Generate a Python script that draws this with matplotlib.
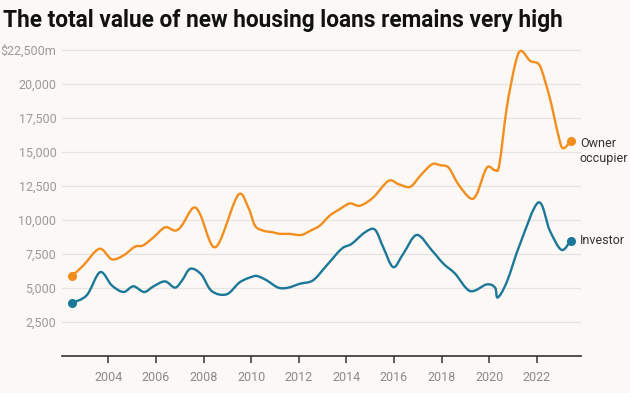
import numpy as np
import matplotlib.pyplot as plt
from matplotlib.path import Path
from matplotlib.patches import PathPatch

# values (decimal year, $m)
owner_years = [2002.46, 2002.95, 2003.62, 2004.14, 2004.63, 2005.12, 2005.45, 2005.9,
               2006.38, 2006.8, 2007.08, 2007.55, 2007.85, 2008.25, 2008.48, 2008.76,
               2009.46, 2009.88, 2010.16, 2010.5, 2010.92, 2011.2, 2011.6, 2012.1,
               2012.5, 2012.88, 2013.3, 2013.73, 2014.15, 2014.57, 2015.13, 2015.77,
               2016.19, 2016.68, 2017.1, 2017.6, 2017.95, 2018.3, 2018.7, 2019.2,
               2019.48, 2019.9, 2020.25, 2020.43, 2020.74, 2021.09, 2021.33, 2021.72,
               2022.03, 2022.2, 2022.55, 2022.9, 2023.1, 2023.43]
owner_vals = [5850, 6650, 7870, 7100, 7380, 8030, 8110, 8720,
              9450, 9210, 9570, 10870, 10430, 8480, 7990, 8720,
              11850, 10910, 9570, 9210, 9080, 8970, 8970, 8890,
              9210, 9570, 10310, 10800, 11210, 11040, 11650, 12870,
              12630, 12430, 13240, 14090, 14020, 13840, 12630, 11600,
              11900, 13840, 13650, 14090, 18240, 21420, 22440, 21710,
              21540, 21050, 18970, 16290, 15270, 15800]

inv_years = [2002.46, 2003.09, 2003.65, 2004.14, 2004.63, 2005.05, 2005.5, 2005.9,
             2006.38, 2006.8, 2007.1, 2007.44, 2007.9, 2008.34, 2008.97, 2009.53,
             2010.09, 2010.3, 2010.65, 2011.14, 2011.56, 2012.05, 2012.6, 2013.17,
             2013.8, 2014.22, 2014.78, 2015.2, 2015.55, 2015.97, 2016.39, 2016.96,
             2017.6, 2018.08, 2018.57, 2019.2, 2019.9, 2020.25, 2020.36, 2020.74,
             2021.3, 2022.07, 2022.55, 2023.04, 2023.43]
inv_vals = [3880, 4450, 6150, 5180, 4690, 5110, 4690, 5110,
            5470, 5010, 5550, 6400, 5990, 4760, 4520, 5420,
            5840, 5840, 5550, 5010, 5010, 5300, 5550, 6640,
            7870, 8230, 9080, 9280, 7980, 6520, 7500, 8890,
            7740, 6770, 6040, 4760, 5250, 5010, 4280, 5420,
            8230, 11280, 9210, 7790, 8480]

yticks = [2500, 5000, 7500, 10000, 12500, 15000, 17500, 20000, 22500]
ylabels = ['2,500', '5,000', '7,500', '10,000', '12,500', '15,000', '17,500', '20,000', '$22,500m']
xticks = list(range(2004, 2023, 2))

orange = '#f28e1e'
blue = '#1b7898'
bg = '#fcf8f5'


def smooth_path(xs, ys):
    # catmull-rom through the points, drawn as cubic bezier segments
    p = np.column_stack([xs, ys]).astype(float)
    p = np.vstack([p[0], p, p[-1]])
    verts = [p[1]]
    codes = [Path.MOVETO]
    for i in range(1, len(p) - 2):
        c1 = p[i] + (p[i + 1] - p[i - 1]) / 6
        c2 = p[i + 1] - (p[i + 2] - p[i]) / 6
        verts += [c1, c2, p[i + 1]]
        codes += [Path.CURVE4] * 3
    return Path(verts, codes)


plt.rcParams['font.family'] = ['Roboto', 'DejaVu Sans']
fig = plt.figure(figsize=(6.3, 3.93), dpi=100, facecolor=bg)
ax = fig.add_axes([0.0984, 0.0949, 0.8238, 0.795], facecolor=bg)

for xs, ys, c in [(owner_years, owner_vals, orange), (inv_years, inv_vals, blue)]:
    ax.add_patch(PathPatch(smooth_path(xs, ys), fill=False, edgecolor=c, lw=1.7,
                           capstyle='round', joinstyle='round', zorder=3))
    ax.plot([xs[0], xs[-1]], [ys[0], ys[-1]], 'o', color=c, ms=5.5, zorder=4)

ax.annotate('Owner\noccupier', (owner_years[-1], owner_vals[-1]), xytext=(6.5, -7),
            textcoords='offset points', ha='left', va='center', fontsize=9,
            color='#333333', linespacing=1.15)
ax.annotate('Investor', (inv_years[-1], inv_vals[-1]), xytext=(6.5, 0),
            textcoords='offset points', ha='left', va='center', fontsize=9,
            color='#333333')

ax.set_xlim(2002.05, 2023.86)
ax.set_ylim(0, 23000)
ax.set_yticks(yticks)
ax.set_yticklabels(ylabels)
ax.set_xticks(xticks)
ax.set_xticklabels([str(x) for x in xticks])
ax.grid(axis='y', color='#e6e3e0', lw=0.9)
ax.set_axisbelow(True)
for s in ['left', 'right', 'top']:
    ax.spines[s].set_visible(False)
ax.spines['bottom'].set_color('#333333')
ax.spines['bottom'].set_linewidth(1.2)
ax.tick_params(axis='y', length=0, pad=4, labelsize=9, labelcolor='#9a9a9a')
ax.tick_params(axis='x', length=5, width=1.1, color='#333333', pad=6,
               labelsize=9, labelcolor='#8a8a8a')

fig.text(0.005, 0.948, 'The total value of new housing loans remains very high',
         fontsize=16.3, fontweight='bold', color='#111111', va='center', ha='left')

fig.savefig('out.png', dpi=100, facecolor=bg)
